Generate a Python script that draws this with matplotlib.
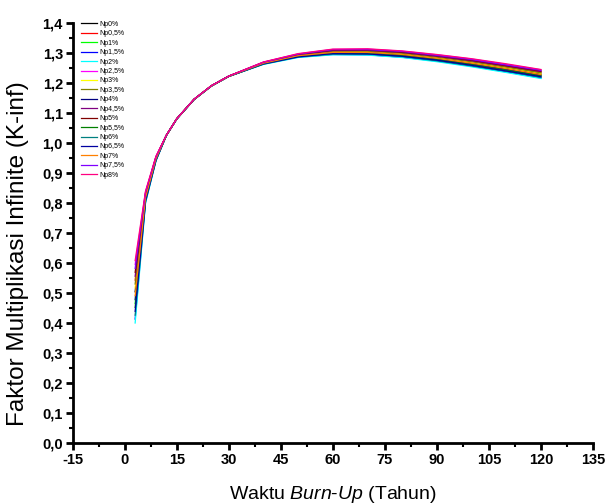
import matplotlib
matplotlib.use("Agg")
import matplotlib.pyplot as plt
from matplotlib.ticker import FuncFormatter, MultipleLocator

plt.rcParams["font.family"] = ["Liberation Sans", "DejaVu Sans"]
plt.rcParams["font.weight"] = "bold"
plt.rcParams["axes.unicode_minus"] = False
plt.rcParams["mathtext.fontset"] = "custom"
plt.rcParams["mathtext.it"] = "Liberation Sans:italic:normal"
plt.rcParams["mathtext.rm"] = "Liberation Sans:normal"

# burn-up time (years)
years = [3, 6, 9, 12, 15, 20, 25, 30, 40, 50, 60, 70, 80, 90, 100, 110, 120]

labels = ["Np0%", "Np0,5%", "Np1%", "Np1,5%", "Np2%", "Np2,5%", "Np3%", "Np3,5%",
          "Np4%", "Np4,5%", "Np5%", "Np5,5%", "Np6%", "Np6,5%", "Np7%", "Np7,5%", "Np8%"]

# Origin default palette
colors = ["#000000", "#FF0000", "#00FF00", "#0000FF", "#00FFFF", "#FF00FF", "#FFFF00",
          "#808000", "#000080", "#800080", "#800000", "#008000", "#008080", "#0000A0",
          "#FF8000", "#8000FF", "#FF0080"]

# k-inf values, one list per series
k_np0   = [0.504, 0.820, 0.948, 1.026, 1.081, 1.146, 1.191, 1.223, 1.266, 1.291, 1.304, 1.303, 1.296, 1.283, 1.268, 1.249, 1.230]
k_np05  = [0.543, 0.828, 0.951, 1.026, 1.081, 1.146, 1.191, 1.223, 1.268, 1.294, 1.307, 1.307, 1.300, 1.288, 1.273, 1.255, 1.236]
k_np1   = [0.465, 0.813, 0.945, 1.025, 1.080, 1.145, 1.190, 1.222, 1.265, 1.289, 1.300, 1.300, 1.292, 1.279, 1.263, 1.244, 1.225]
k_np15  = [0.413, 0.803, 0.941, 1.025, 1.080, 1.145, 1.190, 1.222, 1.263, 1.286, 1.295, 1.294, 1.286, 1.273, 1.256, 1.237, 1.217]
k_np2   = [0.400, 0.800, 0.940, 1.025, 1.080, 1.145, 1.190, 1.222, 1.262, 1.285, 1.294, 1.293, 1.285, 1.271, 1.254, 1.235, 1.215]
k_np25  = [0.595, 0.838, 0.955, 1.026, 1.081, 1.146, 1.191, 1.223, 1.270, 1.297, 1.312, 1.313, 1.306, 1.294, 1.280, 1.262, 1.244]
k_np3   = [0.517, 0.823, 0.949, 1.026, 1.081, 1.146, 1.191, 1.223, 1.267, 1.292, 1.305, 1.305, 1.298, 1.285, 1.269, 1.251, 1.232]
k_np35  = [0.530, 0.825, 0.950, 1.026, 1.081, 1.146, 1.191, 1.223, 1.267, 1.293, 1.306, 1.306, 1.299, 1.286, 1.271, 1.253, 1.234]
k_np4   = [0.478, 0.815, 0.946, 1.025, 1.080, 1.145, 1.190, 1.222, 1.265, 1.290, 1.301, 1.301, 1.293, 1.280, 1.264, 1.246, 1.226]
k_np45  = [0.556, 0.830, 0.952, 1.026, 1.081, 1.146, 1.191, 1.223, 1.268, 1.295, 1.308, 1.309, 1.302, 1.289, 1.274, 1.257, 1.238]
k_np5   = [0.569, 0.833, 0.953, 1.026, 1.081, 1.146, 1.191, 1.223, 1.269, 1.295, 1.310, 1.310, 1.303, 1.291, 1.276, 1.258, 1.240]
k_np55  = [0.452, 0.810, 0.944, 1.025, 1.080, 1.145, 1.190, 1.222, 1.264, 1.288, 1.299, 1.298, 1.291, 1.277, 1.261, 1.242, 1.223]
k_np6   = [0.426, 0.805, 0.942, 1.025, 1.080, 1.145, 1.190, 1.222, 1.263, 1.287, 1.296, 1.296, 1.288, 1.274, 1.257, 1.239, 1.219]
k_np65  = [0.439, 0.808, 0.943, 1.025, 1.080, 1.145, 1.190, 1.222, 1.264, 1.287, 1.298, 1.297, 1.289, 1.276, 1.259, 1.240, 1.221]
k_np7   = [0.491, 0.818, 0.947, 1.025, 1.080, 1.145, 1.190, 1.222, 1.266, 1.291, 1.302, 1.302, 1.295, 1.282, 1.266, 1.248, 1.228]
k_np75  = [0.582, 0.835, 0.954, 1.026, 1.081, 1.146, 1.191, 1.223, 1.269, 1.296, 1.311, 1.311, 1.305, 1.292, 1.278, 1.260, 1.242]
k_np8   = [0.608, 0.840, 0.956, 1.026, 1.081, 1.146, 1.191, 1.223, 1.270, 1.298, 1.313, 1.314, 1.307, 1.295, 1.281, 1.264, 1.245]

series = [k_np0, k_np05, k_np1, k_np15, k_np2, k_np25, k_np3, k_np35, k_np4,
          k_np45, k_np5, k_np55, k_np6, k_np65, k_np7, k_np75, k_np8]

fig = plt.figure(figsize=(6.08, 5.04), dpi=100)
ax = fig.add_axes([72.7 / 608, 61 / 504, 520.3 / 608, 420 / 504])

for vals, lab, col in zip(series, labels, colors):
    ax.plot(years, vals, color=col, linewidth=0.9, label=lab)

ax.set_xlim(-15, 135)
ax.set_ylim(0, 1.4)
ax.xaxis.set_major_locator(MultipleLocator(15))
ax.xaxis.set_minor_locator(MultipleLocator(7.5))
ax.yaxis.set_major_locator(MultipleLocator(0.1))
ax.yaxis.set_minor_locator(MultipleLocator(0.05))
ax.yaxis.set_major_formatter(FuncFormatter(lambda v, p: f"{v:.1f}".replace(".", ",")))

for side in ["top", "right"]:
    ax.spines[side].set_visible(False)
for side in ["left", "bottom"]:
    ax.spines[side].set_linewidth(2)

ax.tick_params(which="major", direction="out", length=5, width=2, labelsize=10.5, pad=2)
ax.tick_params(which="minor", direction="out", length=3, width=1.5)

ax.set_xlabel("Waktu $\\it{Burn}$-$\\it{Up}$ (Tahun)", fontsize=14, fontweight="normal")
ax.xaxis.set_label_coords(0.5, -(484 - 443) / 420)
ax.set_ylabel("Faktor Multiplikasi Infinite (K-inf)", fontsize=17.5, fontweight="normal")
ax.yaxis.set_label_coords(-(72.7 - 29) / 520.3, (443 - 254) / 420)

ax.legend(loc="upper left", bbox_to_anchor=(8.3 / 520.3, 1.005), frameon=False,
          prop={"size": 5, "weight": "normal"}, labelspacing=0.35, handlelength=2.3,
          handletextpad=0.4, borderpad=0, borderaxespad=0)

plt.savefig("out.png", dpi=100)
